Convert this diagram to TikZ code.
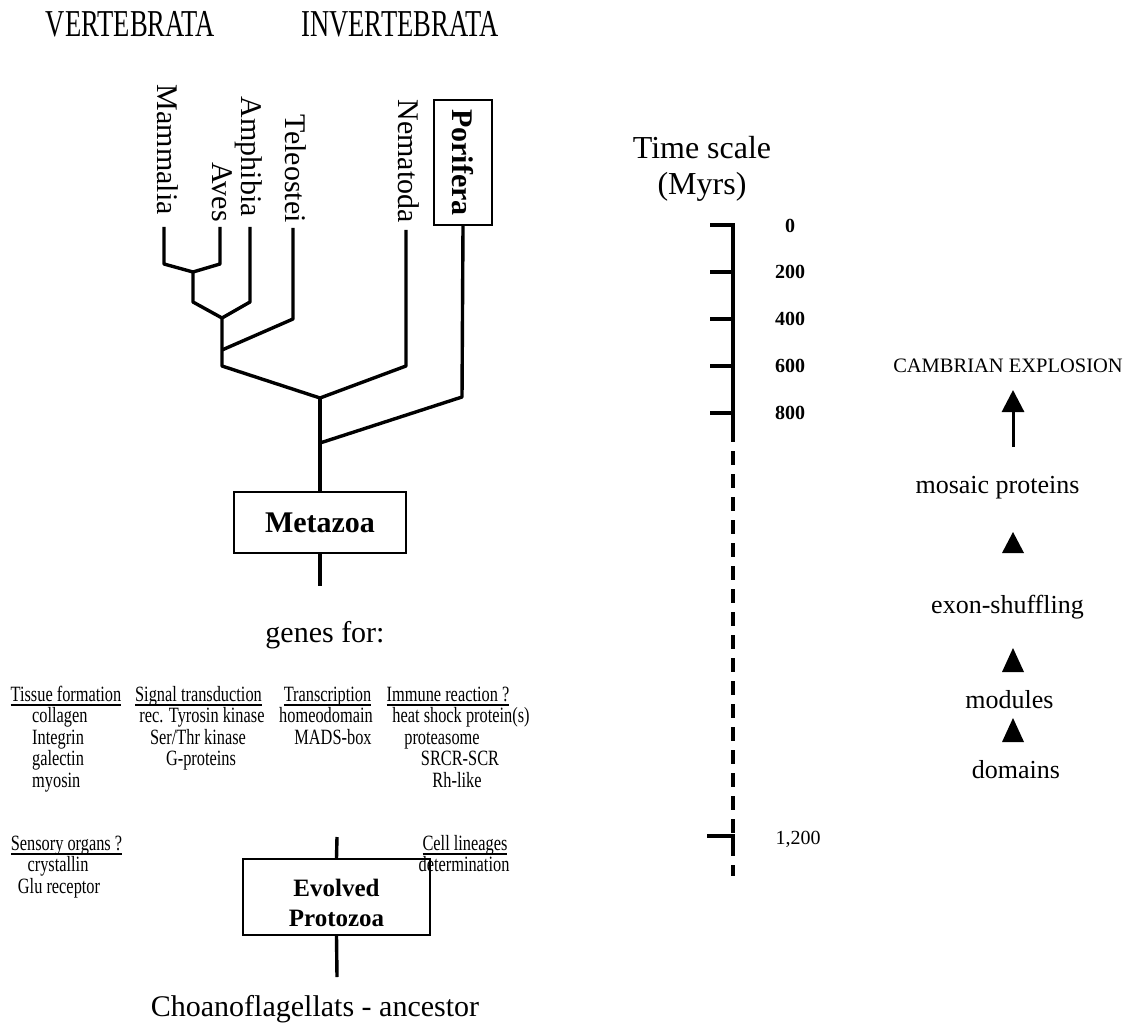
\documentclass[tikz,border=0pt]{standalone}
\usepackage{fontspec}
\setmainfont{Liberation Serif}
\newfontfamily\condfont[FakeStretch=0.75]{Liberation Serif}
\newfontfamily\headfont[FakeStretch=0.7]{Liberation Serif}
\usetikzlibrary{arrows.meta}
\newcommand{\fsz}[1]{\fontsize{#1}{#1}\selectfont}
\newcommand{\myul}[1]{\setbox0\hbox{#1}\rlap{\rule[-4.5pt]{\wd0}{1.3pt}}\box0}
\tikzset{
  br/.style={line width=3.4pt, line join=round},
  boxed/.style={draw, line width=1.8pt, inner sep=0pt},
  lbl/.style={rotate=-90, anchor=east, inner sep=0pt, font=\fsz{30}},
  gl/.style={font=\condfont\fsz{21.8}, inner sep=0pt, anchor=base},
  glw/.style={font=\condfont\fsz{21.8}, inner sep=0pt, anchor=base west},
  axis/.style={line width=3.6pt},
  ticklbl/.style={font=\bfseries\fsz{20}, inner sep=0pt},
  rt/.style={font=\fsz{26}, inner sep=0pt},
}
\begin{document}
\begin{tikzpicture}[x=1pt,y=-1pt]
\useasboundingbox (0,0) rectangle (1139,1024);
\fill[white] (0,0) rectangle (1139,1024);

% headers
\node[font=\headfont\fsz{38}, inner sep=0pt, anchor=base] (vert) at (130.5,37) {VERTEBRATA};
\node[font=\headfont\fsz{38}, inner sep=0pt, anchor=base] (invert) at (400,37) {INVERTEBRATA};

% leaf labels
\node[lbl] (mam) at (167.5,215) {Mammalia};
\node[lbl] (aves) at (222,222) {Aves};
\node[lbl] (amph) at (249,217) {Amphibia};
\node[lbl] (tele) at (296,223) {Teleostei};
\node[lbl] (nema) at (409,223) {Nematoda};
\node[boxed, rotate=-90, minimum width=125pt, minimum height=58pt, font=\bfseries\fsz{30}] (pori) at (463,162.5) {Porifera};

% tree coordinates
\coordinate (tM) at (164,227);  \coordinate (bM) at (164,264);
\coordinate (tA) at (220,227);  \coordinate (bA) at (220,264);
\coordinate (j1) at (193,272);  \coordinate (j1b) at (193,302);
\coordinate (tAm) at (250,227); \coordinate (bAm) at (250,302);
\coordinate (j2) at (222,318);
\coordinate (tT) at (293,228);  \coordinate (bT) at (293,319);
\coordinate (j3) at (222,350);  \coordinate (j3b) at (222,366);
\coordinate (tN) at (406,230);  \coordinate (bN) at (406,366);
\coordinate (j4) at (320,398);
\coordinate (bP) at (462,397);
\coordinate (j5) at (320,443);

\node[boxed, minimum width=172pt, minimum height=61pt, font=\bfseries\fsz{30}] (meta) at (320,522.5) {Metazoa};
\coordinate (mtail) at (320,586);

\draw[br] (tM) -- (bM) -- (j1) -- (bA) -- (tA);
\draw[br] (j1) -- (j1b) -- (j2) -- (bAm) -- (tAm);
\draw[br] (j2) -- (j3) -- (j3b) -- (j4) -- (bN) -- (tN);
\draw[br] (j3) -- (bT) -- (tT);
\draw[br] (j4) -- (j5) -- (meta.north);
\draw[br] (j5) -- (bP) -- (pori.east);
\draw[br] (meta.south) -- (mtail);

% genes for
\node[font=\fsz{30}, inner sep=0pt, anchor=base] (genes) at (325,642) {genes for:};

% gene lists row 1
\node[gl] (h1) at (66,701) {\myul{Tissue formation}};
\node[glw] (c1a) at (32,722.5) {collagen};
\node[glw] (c1b) at (32,744) {Integrin};
\node[glw] (c1c) at (32,765.5) {galectin};
\node[glw] (c1d) at (32,787) {myosin};

\node[gl] (h2) at (198.5,701) {\myul{Signal transduction}};
\node[gl] (c2a) at (202,722.5) {rec. Tyrosin kinase};
\node[gl] (c2b) at (198,744) {Ser/Thr kinase};
\node[gl] (c2c) at (201,765.5) {G-proteins};

\node[gl] (h3) at (327.5,701) {\myul{Transcription}};
\node[gl] (c3a) at (326,722.5) {homeodomain};
\node[gl] (c3b) at (333,744) {MADS-box};

\node[gl] (h4) at (448,701) {\myul{Immune reaction ?}};
\node[gl] (c4a) at (461,722.5) {heat shock protein(s)};
\node[gl] (c4b) at (442,744) {proteasome};
\node[gl] (c4c) at (460,765.5) {SRCR-SCR};
\node[gl] (c4d) at (457,787) {Rh-like};

% row 2
\node[gl] (h5) at (66.5,850) {\myul{Sensory organs ?}};
\node[gl] (c5a) at (58,871.5) {crystallin};
\node[gl] (c5b) at (59,893) {Glu receptor};

\node[gl] (h6) at (465,850) {\myul{Cell lineages}};
\node[gl] (c6a) at (464,871.5) {determination};

% evolved protozoa
\node[boxed, minimum width=187pt, minimum height=76pt] (evol) at (336.5,897) {};
\node[align=center, inner sep=0pt, font=\bfseries\fontsize{25}{30}\selectfont] (evoltxt) at (336.5,903) {Evolved\\Protozoa};
\coordinate (ptop) at (337,837);
\coordinate (ptail) at (337,977);
\draw[br] (ptop) -- (evol.north);
\draw[br] (evol.south) -- (ptail);

\node[font=\fsz{30}, inner sep=0pt, anchor=base] (choano) at (315,1016) {Choanoflagellats - ancestor};

% time scale
\node[font=\fsz{32}, inner sep=0pt] (ts) at (702,148) {Time scale};
\node[font=\fsz{32}, inner sep=0pt] (myrs) at (702,187) {(Myrs)};

\draw[axis] (710,225) -- (733,225) -- (733,428);
\foreach \yy in {272,319,366,413} \draw[axis] (710,\yy) -- (733,\yy);
\draw[axis, dash pattern=on 14pt off 9pt] (733,428) -- (733,876);
\draw[axis] (707,836) -- (733,836) -- (733,849);

\node[ticklbl] (l0) at (790,226) {0};
\node[ticklbl] (l200) at (790,272) {200};
\node[ticklbl] (l400) at (790,319) {400};
\node[ticklbl] (l600) at (790,366) {600};
\node[ticklbl] (l800) at (790,413) {800};
\node[font=\fsz{20}, inner sep=0pt] (l1200) at (798,839) {1,200};

% right column
\node[font=\fsz{20.5}, inner sep=0pt] (camb) at (1008,366) {CAMBRIAN EXPLOSION};
\node[rt] (mosaic) at (997.5,488) {mosaic proteins};
\node[rt] (exon) at (1007.5,607) {exon-shuffling};
\node[rt] (modules) at (1009.5,700) {modules};
\node[rt] (domains) at (1016,770) {domains};

\coordinate (ars) at (1013,447);
\coordinate (art) at (1013,390);
\draw[line width=3pt, -{Triangle[length=22pt,width=22pt]}] (ars) -- (art);

\fill (1002,553) -- (1024,553) -- (1013,532) -- cycle;
\fill (1002,672) -- (1024,672) -- (1013,648) -- cycle;
\fill (1002,742) -- (1024,742) -- (1013,718) -- cycle;
\end{tikzpicture}
\end{document}
